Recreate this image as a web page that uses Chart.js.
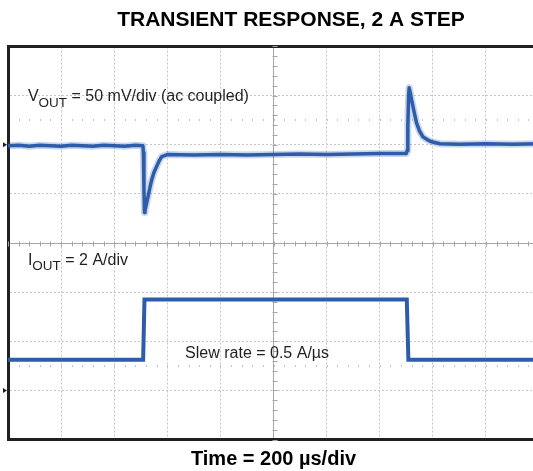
<!DOCTYPE html>
<html>
<head>
<meta charset="utf-8">
<script src="https://cdn.jsdelivr.net/npm/chart.js@4.4.1/dist/chart.umd.min.js"></script>
<style>
  html, body { margin: 0; padding: 0; background: #fff; overflow: hidden; }
  #wrap { position: relative; width: 582px; height: 471px; }
</style>
</head>
<body>
<div id="wrap"><canvas id="myChart"></canvas></div>
<script>
// time in µs (200 µs/div, 10 div on screen)
var vTime = [0, 40, 80, 120, 160, 200, 240, 280, 320, 360, 400, 440, 480, 508, 510, 512, 514, 516, 520, 528, 535, 541, 550, 560, 570, 579, 590, 600, 700, 800, 900, 1000, 1100, 1200, 1300, 1400, 1500, 1503, 1506, 1509, 1511, 1515, 1520, 1530, 1539, 1550, 1563, 1580, 1596, 1627, 1700, 1800, 1900, 2000];
// V OUT in mV (50 mV/div, ac coupled, 0 = upper marker)
var vOut = [-1, -0.5, -1.5, -0.5, -1, -1.5, -0.5, -1, -1.5, -0.5, -1, -1.5, -0.5, -1, -8, -45, -69, -67, -62, -52, -43, -36, -28, -22, -16, -12, -11, -10, -10.5, -10, -10.5, -10, -9.5, -10, -9.5, -9, -9, -6, 20, 50, 58, 53, 46, 33, 22, 14, 8, 5, 3, 1, 0.5, 1, 0.5, 1];

var iTime = [0, 509, 514, 1000, 1502, 1508, 2000];
// I OUT in A (2 A/div, 0 = lower marker)
var iOut = [1.25, 1.25, 3.7, 3.7, 3.7, 1.25, 1.25];

var chartTitle = 'TRANSIENT RESPONSE, 2 A STEP';

var traceColor = '#2c5caa';
var gridColor = '#c6c6c6';
var centerColor = '#a6a6a6';
var frameColor = '#231f20';

Chart.defaults.font.family = '"Liberation Sans", Arial, sans-serif';

function pts(xs, ys) {
    return xs.map(function (t, i) { return { x: t, y: ys[i] }; });
}

// graticule extras, markers, title and in-plot labels
var scopeMarks = {
    id: 'scopeMarks',
    beforeDatasetsDraw: function (chart) {
        var ctx = chart.ctx, x = chart.scales.x, y = chart.scales.y;
        ctx.save();
        ctx.strokeStyle = centerColor;
        ctx.lineWidth = 1;
        var cx = Math.round(x.getPixelForValue(1000)) + 0.5;
        var cy = Math.round(y.getPixelForValue(4)) + 0.5;
        ctx.beginPath();
        for (var d = 0; d <= 8.001; d += 0.2) {
            var py = Math.round(y.getPixelForValue(d)) + 0.5;
            ctx.moveTo(cx - 2, py); ctx.lineTo(cx + 3, py);
        }
        for (var t = 0; t <= 2000; t += 40) {
            var px = Math.round(x.getPixelForValue(t)) + 0.5;
            ctx.moveTo(px, cy - 2); ctx.lineTo(px, cy + 3);
        }
        ctx.stroke();
        // dotted rows
        ctx.fillStyle = '#c4c4c4';
        [6.5, 1.5].forEach(function (row) {
            var ry = Math.round(y.getPixelForValue(row));
            for (var t = 40; t < 2000; t += 40) {
                ctx.fillRect(Math.round(x.getPixelForValue(t)), ry - 1, 1, 2);
            }
        });
        ctx.restore();
    },
    afterDraw: function (chart) {
        var ctx = chart.ctx, x = chart.scales.x, y = chart.scales.y;
        var yv = chart.scales.yv, yi = chart.scales.yi;
        ctx.save();
        // title
        ctx.fillStyle = '#000';
        ctx.textAlign = 'center';
        ctx.textBaseline = 'alphabetic';
        ctx.font = 'bold 21px "Liberation Sans", Arial';
        ctx.fillText(chartTitle, 291, 25.5);
        ctx.textAlign = 'left';
        // ground markers
        ctx.fillStyle = frameColor;
        [yv.getPixelForValue(0), yi.getPixelForValue(0)].forEach(function (my) {
            ctx.beginPath();
            ctx.moveTo(3, my - 2.5); ctx.lineTo(7, my); ctx.lineTo(3, my + 2.5);
            ctx.closePath(); ctx.fill();
        });
        // labels
        ctx.fillStyle = '#231f20';
        function sub(main, s, rest, t, d) {
            var px = x.getPixelForValue(t), py = y.getPixelForValue(d);
            ctx.font = '16px "Liberation Sans", Arial';
            ctx.fillText(main, px, py);
            px += ctx.measureText(main).width;
            ctx.font = '13.5px "Liberation Sans", Arial';
            ctx.fillText(s, px, py + 5.5);
            px += ctx.measureText(s).width;
            ctx.font = '16px "Liberation Sans", Arial';
            ctx.fillText(rest, px, py);
        }
        sub('V', 'OUT', ' = 50 mV/div (ac coupled)', 75, 6.89);
        sub('I', 'OUT', ' = 2 A/div', 75, 3.56);
        ctx.font = '16px "Liberation Sans", Arial';
        ctx.fillText('Slew rate = 0.5 A/µs', x.getPixelForValue(667), y.getPixelForValue(1.65));
        ctx.restore();
    }
};

var ctx = document.getElementById('myChart').getContext('2d');
var myChart = new Chart(ctx, {
    type: 'line',
    data: {
        datasets: [
            {
                label: 'VOUT band',
                data: pts(vTime, vOut),
                yAxisID: 'yv',
                borderColor: 'rgba(44, 92, 170, 0.25)',
                borderWidth: 7,
                borderJoinStyle: 'round',
                pointRadius: 0,
                tension: 0
            },
            {
                label: 'VOUT',
                data: pts(vTime, vOut),
                yAxisID: 'yv',
                borderColor: traceColor,
                borderWidth: 3.5,
                borderJoinStyle: 'round',
                pointRadius: 0,
                tension: 0
            },
            {
                label: 'IOUT',
                data: pts(iTime, iOut),
                yAxisID: 'yi',
                borderColor: traceColor,
                borderWidth: 4,
                pointRadius: 0,
                tension: 0
            }
        ]
    },
    options: {
        responsive: true,
        maintainAspectRatio: false,
        animation: false,
        layout: { padding: { left: 8, right: 43, top: 46.5, bottom: 0 } },
        plugins: {
            legend: { display: false },
            tooltip: { enabled: false },
            title: { display: false }
        },
        scales: {
            x: {
                type: 'linear',
                min: 0,
                max: 2000,
                ticks: { stepSize: 200, display: false },
                grid: {
                    drawTicks: false,
                    lineWidth: 1,
                    color: function (c) { return c.tick && c.tick.value === 1000 ? centerColor : gridColor; }
                },
                border: {
                    display: true, width: 3, color: frameColor,
                    dash: function (c) { return c.tick && c.tick.value === 1000 ? [] : [2, 2]; }
                },
                title: {
                    display: true,
                    text: 'Time = 200 µs/div',
                    color: '#000',
                    font: { size: 20, weight: 'bold' },
                    padding: { top: 7.5, bottom: 0 }
                }
            },
            x2: {
                type: 'linear',
                position: 'top',
                min: 0,
                max: 2000,
                ticks: { display: false },
                grid: { display: false, drawTicks: false },
                border: { display: true, width: 3, color: frameColor }
            },
            y: {
                type: 'linear',
                min: 0,
                max: 8,
                ticks: { stepSize: 1, display: false },
                grid: {
                    drawTicks: false,
                    lineWidth: 1,
                    color: function (c) { return c.tick && c.tick.value === 4 ? centerColor : gridColor; }
                },
                border: {
                    display: true, width: 3, color: frameColor,
                    dash: function (c) { return c.tick && c.tick.value === 4 ? [] : [2, 2]; }
                }
            },
            yv: { display: false, min: -300, max: 100 },
            yi: { display: false, min: -2, max: 14 }
        }
    },
    plugins: [scopeMarks]
});
</script>
</body>
</html>
